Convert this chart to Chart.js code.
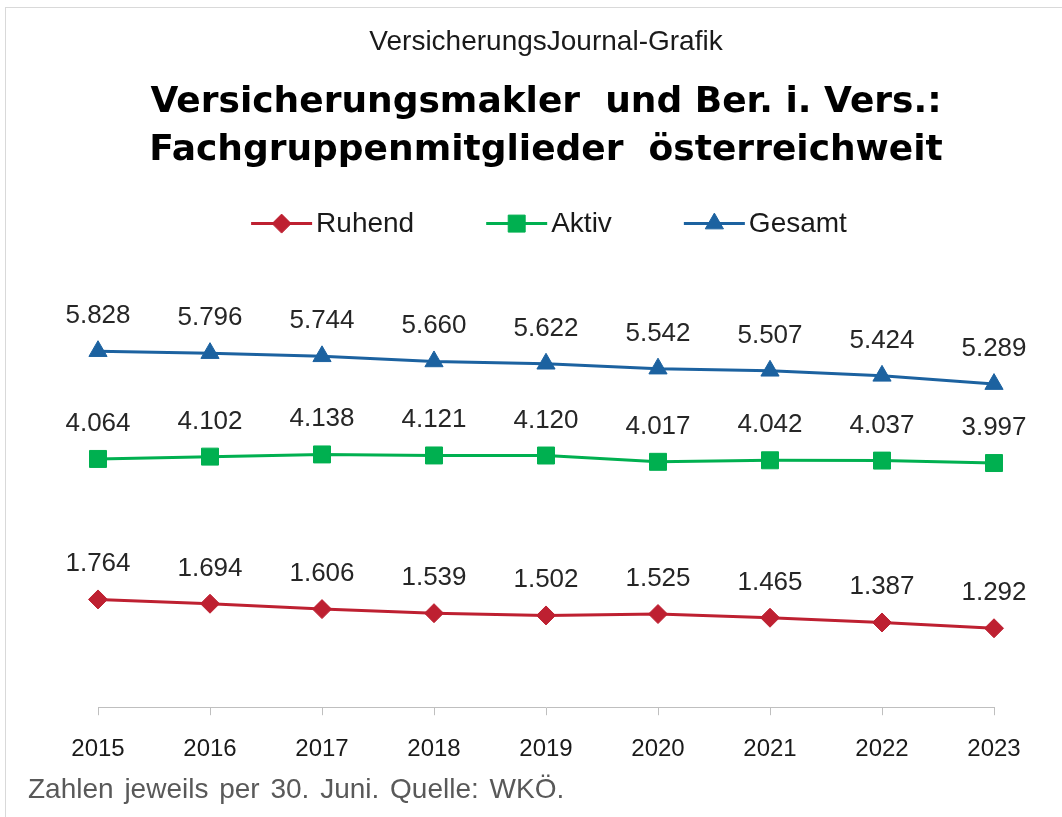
<!DOCTYPE html>
<html>
<head>
<meta charset="utf-8">
<script src="https://cdn.jsdelivr.net/npm/chart.js@4.4.0/dist/chart.umd.min.js"></script>
<style>
  html, body { margin: 0; padding: 0; background: #fff; }
  #frame { position: absolute; left: 5px; top: 7px; width: 1060px; height: 820px; border: 1px solid #d9d9d9; }
  #chart { position: absolute; left: 0; top: 0; }
  #note { position: absolute; left: 28px; top: 775px; font: 28px "Liberation Sans", Arial, sans-serif;
          color: #595959; word-spacing: 3px; line-height: 28px; white-space: nowrap; }
</style>
</head>
<body>
<div id="frame"></div>
<canvas id="chart" width="1062" height="817"></canvas>
<div id="note">Zahlen jeweils per 30. Juni. Quelle: WKÖ.</div>
<script>
const years = ['2015', '2016', '2017', '2018', '2019', '2020', '2021', '2022', '2023'];
const ruhend = [1764, 1694, 1606, 1539, 1502, 1525, 1465, 1387, 1292];
const aktiv = [4064, 4102, 4138, 4121, 4120, 4017, 4042, 4037, 3997];
const gesamt = [5828, 5796, 5744, 5660, 5622, 5542, 5507, 5424, 5289];

const FONT = '"Liberation Sans", Arial, sans-serif';
const red = '#be2031';
const green = '#00b050';
const blue = '#1c62a0';

// 5828 -> "5.828"
const fmt = v => String(v).replace(/\B(?=(\d{3})+(?!\d))/g, '.');

const valueLabels = {
  id: 'valueLabels',
  afterDatasetsDraw(chart) {
    const ctx = chart.ctx;
    ctx.save();
    ctx.font = '26px ' + FONT;
    ctx.fillStyle = '#262626';
    ctx.textAlign = 'center';
    ctx.textBaseline = 'alphabetic';
    chart.data.datasets.forEach((ds, i) => {
      chart.getDatasetMeta(i).data.forEach((pt, j) => {
        ctx.fillText(fmt(ds.data[j]), pt.x, pt.y - 28);
      });
    });
    ctx.restore();
  }
};

// legend with a short line and the marker on it, like the excel one
const lineLegend = {
  id: 'lineLegend',
  afterDraw(chart) {
    const ctx = chart.ctx;
    const area = chart.chartArea;
    const y = area.top - 56;
    const sets = chart.data.datasets;
    ctx.save();
    ctx.font = '28px ' + FONT;
    const widths = sets.map(ds => 61 + 4 + ctx.measureText(ds.label).width);
    const total = widths.reduce((a, b) => a + b, 0) + 72 * (sets.length - 1);
    let x = (area.left + area.right) / 2 - total / 2 + 3;
    sets.forEach((ds, i) => {
      ctx.strokeStyle = ds.borderColor;
      ctx.lineWidth = 3;
      ctx.beginPath();
      ctx.moveTo(x, y);
      ctx.lineTo(x + 61, y);
      ctx.stroke();
      ctx.fillStyle = ds.borderColor;
      ctx.lineWidth = 1;
      Chart.helpers.drawPoint(ctx, { pointStyle: ds.pointStyle, radius: ds.pointRadius, borderWidth: 1 }, x + 30.5, y);
      ctx.fillStyle = '#1a1a1a';
      ctx.textBaseline = 'alphabetic';
      ctx.fillText(ds.label, x + 65, y + 8);
      x += widths[i] + 72;
    });
    ctx.restore();
  }
};

new Chart(document.getElementById('chart'), {
  type: 'line',
  data: {
    labels: years,
    datasets: [
      { label: 'Ruhend', data: ruhend, borderColor: red, backgroundColor: red, borderWidth: 3,
        pointStyle: 'rectRot', pointRadius: 9.5, pointBorderWidth: 1, tension: 0 },
      { label: 'Aktiv', data: aktiv, borderColor: green, backgroundColor: green, borderWidth: 3,
        pointStyle: 'rect', pointRadius: 12, pointBorderWidth: 1, tension: 0 },
      { label: 'Gesamt', data: gesamt, borderColor: blue, backgroundColor: blue, borderWidth: 3,
        pointStyle: 'triangle', pointRadius: 10.5, pointBorderWidth: 1, tension: 0 }
    ]
  },
  options: {
    responsive: false,
    animation: false,
    layout: { padding: { top: 20, left: 98, right: 68, bottom: 33 } },
    plugins: {
      legend: { display: false },
      tooltip: { enabled: false },
      title: {
        display: true,
        text: 'VersicherungsJournal-Grafik',
        color: '#1a1a1a',
        font: { family: FONT, size: 28, weight: 'normal', lineHeight: 1.2 },
        padding: { top: 5, bottom: 0 }
      },
      subtitle: {
        display: true,
        text: ['Versicherungsmakler  und Ber. i. Vers.:', 'Fachgruppenmitglieder  österreichweit'],
        color: '#000',
        font: { family: '"DejaVu Sans", sans-serif', size: 36, weight: 'bold', lineHeight: 48 / 36 },
        padding: { top: 20, bottom: 105 }
      }
    },
    scales: {
      x: {
        offset: false,
        grid: { drawOnChartArea: false, drawTicks: true, tickLength: 8, color: '#bfbfbf' },
        border: { color: '#bfbfbf' },
        ticks: { color: '#1a1a1a', font: { family: FONT, size: 24 }, padding: 20 }
      },
      y: { display: false, min: 0, max: 7000 }
    }
  },
  plugins: [valueLabels, lineLegend]
});
</script>
</body>
</html>
